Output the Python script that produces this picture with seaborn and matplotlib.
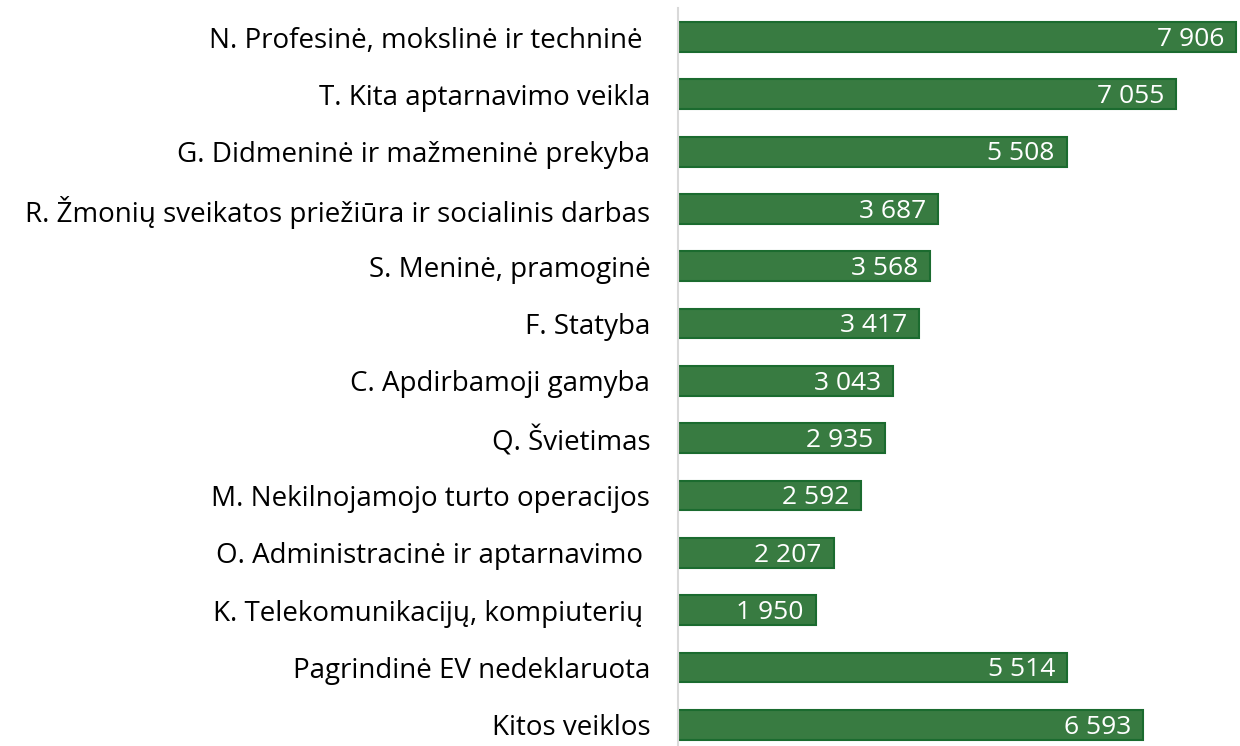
import matplotlib
matplotlib.use("Agg")
import matplotlib.pyplot as plt
import seaborn as sns
import pandas as pd

categories = [
    "N. Profesinė, mokslinė ir techninė ",
    "T. Kita aptarnavimo veikla",
    "G. Didmeninė ir mažmeninė prekyba",
    "R. Žmonių sveikatos priežiūra ir socialinis darbas",
    "S. Meninė, pramoginė",
    "F. Statyba",
    "C. Apdirbamoji gamyba",
    "Q. Švietimas",
    "M. Nekilnojamojo turto operacijos",
    "O. Administracinė ir aptarnavimo ",
    "K. Telekomunikacijų, kompiuterių ",
    "Pagrindinė EV nedeklaruota",
    "Kitos veiklos",
]
values = [7906, 7055, 5508, 3687, 3568, 3417, 3043, 2935, 2592, 2207, 1950, 5514, 6593]

df = pd.DataFrame({"category": categories, "value": values})

sns.set_style("white")
plt.rcParams["font.family"] = ["Open Sans", "DejaVu Sans"]

fig = plt.figure(figsize=(12.4, 7.46), dpi=100)
ax = fig.add_axes([678 / 1240, 0.0, 560 / 1240, 1 - 8 / 746])

sns.barplot(data=df, x="value", y="category", orient="h", color="#387B41",
            saturation=1, edgecolor="#1B6B2F", linewidth=1.5, width=0.52, ax=ax)

# value labels inside the bar end
for i, v in enumerate(values):
    ax.text(v - 170, i + 0.04, f"{v:,}".replace(",", " "), ha="right", va="center",
            color="white", fontsize=19)

ax.set_xlim(0, 7935)
ax.set_ylim(12.37, -0.506)
ax.set_xlabel("")
ax.set_ylabel("")
ax.set_xticks([])
ax.tick_params(axis="y", length=0, pad=20, labelsize=20, labelcolor="black")
for s in ["top", "right", "bottom"]:
    ax.spines[s].set_visible(False)
ax.spines["left"].set_color("#D9D9D9")
ax.spines["left"].set_linewidth(1.5)

fig.savefig("out.png", dpi=100)
